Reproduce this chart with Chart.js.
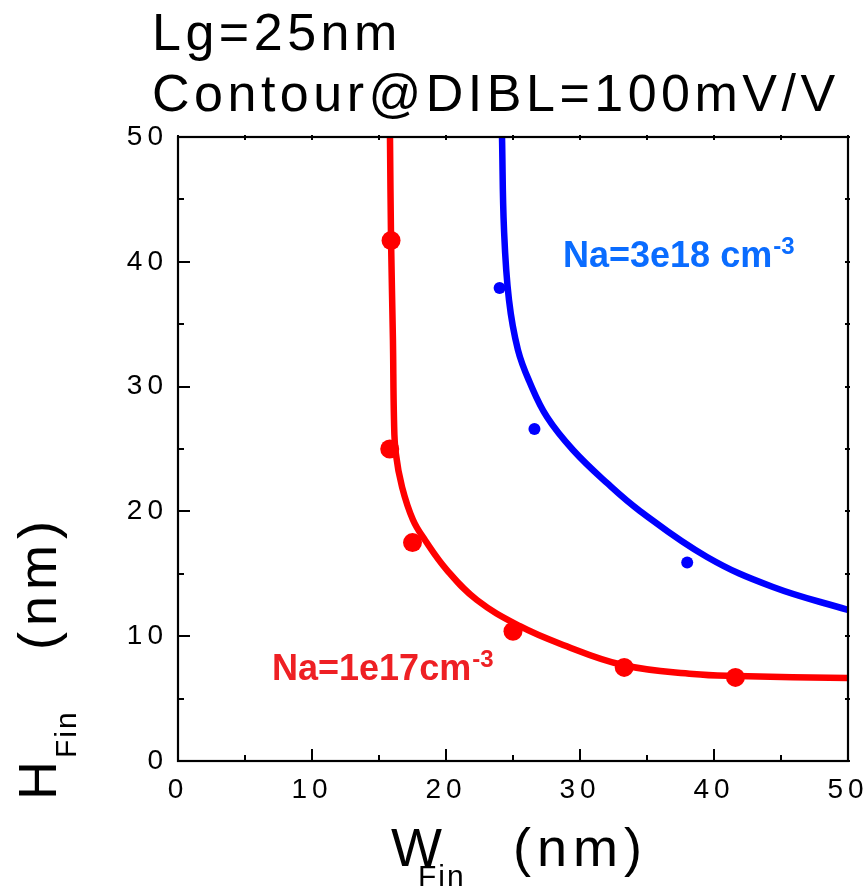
<!DOCTYPE html>
<html>
<head>
<meta charset="utf-8">
<script src="https://cdn.jsdelivr.net/npm/chart.js@4.4.1/dist/chart.umd.min.js"></script>
<style>
  html, body { margin: 0; padding: 0; background: #fff; }
  canvas { display: block; }
</style>
</head>
<body>
<canvas id="c" width="867" height="889"></canvas>
<script>
// ---- data ----
const redCurveX = [15.82, 15.90, 16.04, 16.12, 16.25, 16.72, 17.54, 18.43, 20.07, 22.31, 25.52, 28.51, 33.21, 38.43, 41.72, 50];
const redCurveY = [50, 41.67, 33.73, 27.32, 24.68, 21.96, 19.31, 17.71, 15.30, 12.90, 10.80, 9.40, 7.69, 6.97, 6.81, 6.65];
const blueCurveX = [24.18, 24.33, 24.70, 25.37, 26.27, 27.54, 29.48, 32.01, 34.48, 39.48, 44.40, 50];
const blueCurveY = [50, 42.55, 36.94, 32.93, 30.29, 27.56, 24.92, 22.28, 20.03, 16.35, 13.94, 12.10];
const redPointsX = [15.9, 15.8, 17.5, 25.0, 33.3, 41.6];
const redPointsY = [41.7, 25.0, 17.5, 10.4, 7.5, 6.7];
const bluePointsX = [24.0, 26.6, 38.0];
const bluePointsY = [37.9, 26.6, 15.9];
const xTicks = [0, 10, 20, 30, 40, 50];
const yTicks = [0, 10, 20, 30, 40, 50];
const titleLines = ['Lg=25nm', 'Contour@DIBL=100mV/V'];
const redLabel = ['Na=1e17cm', '-3'];
const blueLabel = ['Na=3e18 cm', '-3'];

const toXY = (xs, ys) => xs.map((x, i) => ({ x: x, y: ys[i] }));

const FONT = '"Liberation Sans", Arial, sans-serif';

const decorPlugin = {
  id: 'decor',
  beforeDraw(chart) {
    chart.ctx.letterSpacing = '5px';
  },
  afterDatasetsDraw(chart) {
    const ctx = chart.ctx;
    const a = chart.chartArea;
    const xs = chart.scales.x, ys = chart.scales.y;
    ctx.save();
    ctx.letterSpacing = '0px';
    ctx.strokeStyle = '#000';
    ctx.lineWidth = 2;
    ctx.beginPath();
    for (let v = 0; v <= 50; v += 5) {
      const major = v % 10 === 0;
      const px = Math.round(xs.getPixelForValue(v));
      const py = Math.round(ys.getPixelForValue(v));
      const L = major ? 12 : 6;
      ctx.moveTo(px, a.bottom); ctx.lineTo(px, a.bottom - L);
      ctx.moveTo(a.left, py); ctx.lineTo(a.left + L, py);
      ctx.moveTo(px, a.top - 2); ctx.lineTo(px, a.top + 3);
      ctx.moveTo(a.right - 3, py); ctx.lineTo(a.right + 2, py);
    }
    ctx.stroke();
    ctx.lineWidth = 2.2;
    ctx.strokeRect(a.left, a.top, a.right - a.left, a.bottom - a.top);

    ctx.textBaseline = 'alphabetic';
    ctx.textAlign = 'left';
    ctx.fillStyle = '#0a6cff';
    ctx.font = 'bold 36px ' + FONT;
    ctx.fillText(blueLabel[0], 563, 267);
    let w = ctx.measureText(blueLabel[0]).width;
    ctx.font = 'bold 24px ' + FONT;
    ctx.fillText(blueLabel[1], 563 + w + 1, 254);

    ctx.fillStyle = '#ee2024';
    ctx.font = 'bold 36px ' + FONT;
    ctx.fillText(redLabel[0], 272, 680);
    w = ctx.measureText(redLabel[0]).width;
    ctx.font = 'bold 24px ' + FONT;
    ctx.fillText(redLabel[1], 272 + w + 1, 667);
    ctx.restore();
  },
  afterDraw(chart) {
    const ctx = chart.ctx;
    ctx.save();
    ctx.fillStyle = '#000';
    ctx.textAlign = 'left';
    ctx.textBaseline = 'alphabetic';
    ctx.font = '52px ' + FONT;
    ctx.letterSpacing = '4.5px';
    ctx.fillText(titleLines[0], 152, 50);
    ctx.fillText(titleLines[1], 152, 111);

    ctx.letterSpacing = '4px';
    ctx.font = '54px ' + FONT;
    ctx.fillText('W', 391, 866);
    ctx.font = '30px ' + FONT;
    ctx.letterSpacing = '2px';
    ctx.fillText('Fin', 418, 886);
    ctx.font = '54px ' + FONT;
    ctx.letterSpacing = '6px';
    ctx.fillText('(nm)', 513, 866);

    ctx.translate(56, 800);
    ctx.rotate(-Math.PI / 2);
    ctx.letterSpacing = '4px';
    ctx.font = '54px ' + FONT;
    ctx.fillText('H', 0, 0);
    ctx.font = '30px ' + FONT;
    ctx.letterSpacing = '2px';
    ctx.fillText('Fin', 42, 20);
    ctx.font = '54px ' + FONT;
    ctx.letterSpacing = '6px';
    ctx.fillText('(nm)', 150, 0);
    ctx.restore();
  }
};

new Chart(document.getElementById('c'), {
  type: 'scatter',
  data: {
    datasets: [
      {
        label: 'Na=1e17 fit',
        data: toXY(redCurveX, redCurveY),
        showLine: true,
        borderColor: '#ff0000',
        borderWidth: 6.5,
        pointRadius: 0,
        tension: 0.4,
        order: 1
      },
      {
        label: 'Na=3e18 fit',
        data: toXY(blueCurveX, blueCurveY),
        showLine: true,
        borderColor: '#0000ff',
        borderWidth: 6.5,
        pointRadius: 0,
        tension: 0.4,
        order: 1
      },
      {
        label: 'Na=1e17 data',
        data: toXY(redPointsX, redPointsY),
        backgroundColor: '#ff0000',
        borderColor: '#ff0000',
        pointRadius: 9.5,
        borderWidth: 0,
        order: 2
      },
      {
        label: 'Na=3e18 data',
        data: toXY(bluePointsX, bluePointsY),
        backgroundColor: '#0000ff',
        borderColor: '#0000ff',
        pointRadius: 6,
        borderWidth: 0,
        order: 2
      }
    ]
  },
  options: {
    responsive: false,
    devicePixelRatio: 1,
    animation: false,
    layout: { padding: { left: 0, top: 137, right: 19, bottom: 0 } },
    plugins: { legend: { display: false }, tooltip: { enabled: false }, title: { display: false } },
    scales: {
      x: {
        type: 'linear', min: 0, max: 50,
        afterFit(s) { s.height = 128; s.paddingLeft = 0; s.paddingRight = 0; },
        afterBuildTicks(s) { s.ticks = xTicks.map(v => ({ value: v })); },
        grid: { display: false, drawTicks: false },
        border: { display: false },
        ticks: { color: '#000', font: { family: FONT, size: 28 }, padding: 12, maxRotation: 0 }
      },
      y: {
        type: 'linear', min: 0, max: 50,
        afterFit(s) { s.width = 178; s.paddingTop = 0; s.paddingBottom = 0; },
        afterBuildTicks(s) { s.ticks = yTicks.map(v => ({ value: v })); },
        grid: { display: false, drawTicks: false },
        border: { display: false },
        ticks: { color: '#000', font: { family: FONT, size: 28 }, padding: 10 }
      }
    }
  },
  plugins: [decorPlugin]
});
</script>
</body>
</html>
